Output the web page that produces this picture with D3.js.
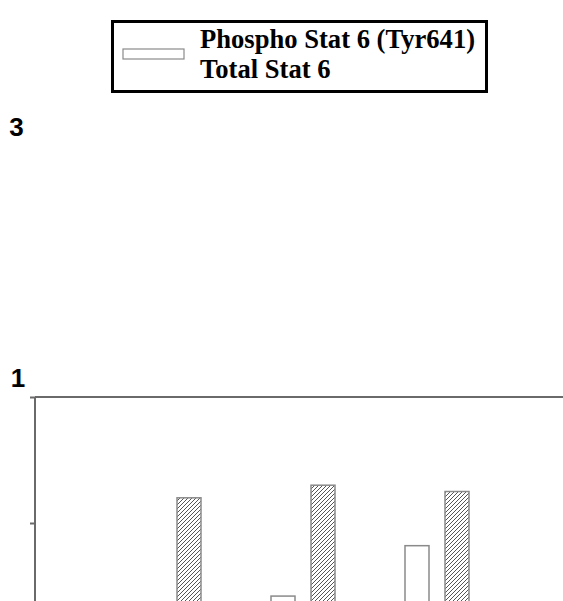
<!DOCTYPE html>
<html>
<head>
<meta charset="utf-8">
<script src="https://cdn.jsdelivr.net/npm/d3@7"></script>
<style>
  body { margin: 0; background: #fff; }
  svg { display: block; }
</style>
</head>
<body>
<div id="chart"></div>
<script>
// chart data
var groups = ["Group 1", "Group 2", "Group 3"];
var seriesKeys = ["phospho", "total"];
var seriesNames = ["Phospho Stat 6 (Tyr641)", "Total Stat 6"];
var phosphoValues = [0.12, 0.21, 0.41];
var totalValues = [0.60, 0.65, 0.625];
var lowerTicks = [0.5, 1];
var upperLabels = [3, 1];

var svgWidth = 563;
var svgHeight = 601;

const svg = d3.select("#chart")
  .append("svg")
  .attr("width", svgWidth)
  .attr("height", svgHeight);

// hatch pattern for total stat 6
var defs = svg.append("defs");
defs.append("pattern")
  .attr("id", "hatch")
  .attr("patternUnits", "userSpaceOnUse")
  .attr("width", 4)
  .attr("height", 4)
  .append("path")
  .attr("d", "M-1,1 l2,-2 M0,4 l4,-4 M3,5 l2,-2")
  .attr("stroke", "#555")
  .attr("stroke-width", 1);

// scales
var axisX = 35;
var x0 = d3.scaleBand().domain(groups).range([102, 504]).padding(0);
var x1 = d3.scaleBand().domain(seriesKeys).range([35, 99]).paddingInner(0.4);
var y = d3.scaleLinear().domain([0, 1]).range([649, 397]);
var yUpper = d3.scaleLinear().domain([1, 3]).range([387, 136]);

// top frame line
svg.append("line")
  .attr("x1", axisX)
  .attr("x2", svgWidth)
  .attr("y1", y(1))
  .attr("y2", y(1))
  .attr("stroke", "#6a6a6a")
  .attr("stroke-width", 2);

// bars
var rows = groups.map((g, i) => ({ group: g, phospho: phosphoValues[i], total: totalValues[i] }));

var groupSel = svg.selectAll(".grp")
  .data(rows)
  .enter()
  .append("g")
  .attr("class", "grp")
  .attr("transform", d => `translate(${x0(d.group)},0)`);

groupSel.selectAll("rect")
  .data(d => seriesKeys.map(k => ({ key: k, value: d[k] })))
  .enter()
  .append("rect")
  .attr("x", d => x1(d.key))
  .attr("width", x1.bandwidth())
  .attr("y", d => y(d.value))
  .attr("height", d => y(0) - y(d.value))
  .attr("fill", d => d.key === "total" ? "url(#hatch)" : "#fff")
  .attr("stroke", "#8a8a8a")
  .attr("stroke-width", 1.5);

// left axis
var leftAxis = d3.axisLeft(y)
  .tickValues(lowerTicks)
  .tickSize(5)
  .tickFormat("");

var yAxis = svg.append("g")
  .attr("transform", `translate(${axisX},0)`)
  .call(leftAxis);
yAxis.select(".domain").remove();
yAxis.selectAll("line").attr("stroke", "#6a6a6a").attr("stroke-width", 2);

svg.append("line")
  .attr("x1", axisX)
  .attr("x2", axisX)
  .attr("y1", y(1))
  .attr("y2", svgHeight)
  .attr("stroke", "#6a6a6a")
  .attr("stroke-width", 2);

// upper labels
svg.selectAll(".upper")
  .data(upperLabels)
  .enter()
  .append("text")
  .attr("class", "upper")
  .attr("x", d => d === 1 ? 18 : 16.5)
  .attr("y", d => yUpper(d))
  .attr("text-anchor", "middle")
  .attr("font-family", "Liberation Sans, Arial, sans-serif")
  .attr("font-weight", "bold")
  .style("font-size", "26px")
  .text(d => d);

// legend
var legend = svg.append("g");
legend.append("rect")
  .attr("x", 112.5)
  .attr("y", 21.5)
  .attr("width", 374)
  .attr("height", 70)
  .attr("fill", "#fff")
  .attr("stroke", "#000")
  .attr("stroke-width", 3);

legend.append("rect")
  .attr("x", 123)
  .attr("y", 49)
  .attr("width", 61)
  .attr("height", 10)
  .attr("fill", "#fff")
  .attr("stroke", "#8a8a8a")
  .attr("stroke-width", 1.2);

legend.selectAll(".ltext")
  .data(seriesNames)
  .enter()
  .append("text")
  .attr("class", "ltext")
  .attr("x", 200)
  .attr("y", (d, i) => 48 + i * 30)
  .attr("font-family", "Liberation Serif, Times New Roman, serif")
  .attr("font-weight", "bold")
  .style("font-size", "26.6px")
  .text(d => d);
</script>
</body>
</html>
